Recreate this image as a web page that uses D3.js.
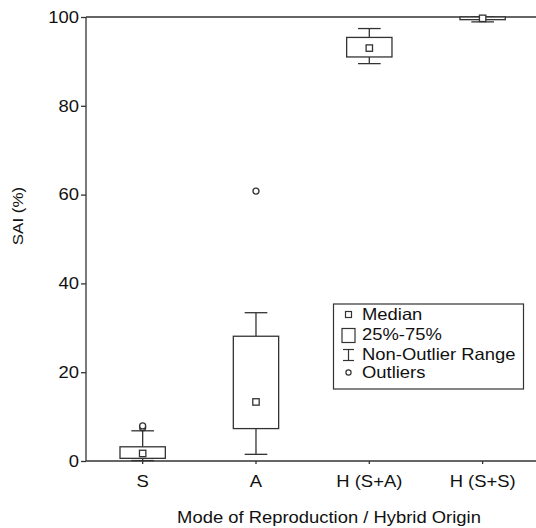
<!DOCTYPE html>
<html><head><meta charset="utf-8">
<script src="https://cdn.jsdelivr.net/npm/d3@7"></script>
<style>body{margin:0;background:#fff}svg{display:block;font-family:"Liberation Sans",Arial,sans-serif}</style>
</head><body><svg id="c" width="536" height="528"></svg>
<script>
const categories = ["S", "A", "H (S+A)", "H (S+S)"];
const medians = [1.7, 13.3, 93.0, 99.7];
const q1 = [0.6, 7.3, 91.0, 99.4];
const q3 = [3.2, 28.1, 95.4, 100.0];
const whiskerLow = [0.1, 1.5, 89.5, 98.9];
const whiskerHigh = [6.8, 33.4, 97.4, 100.0];
const outlierCategory = ["S", "S", "A"];
const outlierValue = [7.5, 7.9, 60.8];
const yTicks = [0, 20, 40, 60, 80, 100];
const legendLabels = ["Median", "25%-75%", "Non-Outlier Range", "Outliers"];

const svg = d3.select("#c");
const ink = "#333";
const SX = 1.13;
function stretch(sel) {
  sel.each(function () {
    const t = d3.select(this);
    const tx = +t.attr("x") || 0, ty = +t.attr("y") || 0;
    t.attr("x", 0).attr("y", 0).attr("transform", `translate(${tx},${ty}) scale(${SX},1)`);
  });
}
const x = d3.scaleBand().domain(categories).range([86, 539.3]);
const y = d3.scaleLinear().domain([0, 100]).range([461, 17]);
const bw = x.bandwidth() * 0.4, cw = x.bandwidth() * 0.2;
const cx = c => x(c) + x.bandwidth() / 2;

// frame top
svg.append("line").attr("x1", 86).attr("x2", 536).attr("y1", y(100)).attr("y2", y(100))
  .attr("stroke", ink).attr("stroke-width", 1.3);

const yAxis = svg.append("g").attr("transform", "translate(86,0)")
  .call(d3.axisLeft(y).tickValues(yTicks).tickSize(5).tickPadding(2));
const xAxis = svg.append("g").attr("transform", `translate(0,${y(0)})`)
  .call(d3.axisBottom(x).tickSize(3).tickPadding(11));
[yAxis, xAxis].forEach(a => {
  a.selectAll("path,line").attr("stroke", ink).attr("stroke-width", 1.3);
  a.selectAll("text").attr("font-size", 16.3).attr("fill", "#111").attr("font-family", "Liberation Sans, Arial, sans-serif");
  stretch(a.selectAll("text"));
});
xAxis.select(".domain").attr("d", `M86,0H536`);
yAxis.select(".domain").attr("d", `M0,${y(0)}V${y(100)}`);

const data = categories.map((c, i) => ({c, med: medians[i], lo: q1[i], hi: q3[i], wl: whiskerLow[i], wh: whiskerHigh[i]}));
const g = svg.append("g").attr("stroke", ink).attr("stroke-width", 1.3).attr("fill", "none");
data.forEach(d => {
  const m = cx(d.c);
  g.append("line").attr("x1", m).attr("x2", m).attr("y1", y(d.wl)).attr("y2", y(d.lo));
  g.append("line").attr("x1", m).attr("x2", m).attr("y1", y(d.hi)).attr("y2", y(d.wh));
  g.append("line").attr("x1", m - cw / 2).attr("x2", m + cw / 2).attr("y1", y(d.wl)).attr("y2", y(d.wl));
  g.append("line").attr("x1", m - cw / 2).attr("x2", m + cw / 2).attr("y1", y(d.wh)).attr("y2", y(d.wh));
  g.append("rect").attr("x", m - bw / 2).attr("width", bw).attr("y", y(d.hi)).attr("height", y(d.lo) - y(d.hi)).attr("fill", "#fff");
  g.append("rect").attr("x", m - 3.2).attr("y", y(d.med) - 3.2).attr("width", 6.4).attr("height", 6.4).attr("fill", "#fff");
});
outlierValue.forEach((v, i) => {
  g.append("circle").attr("cx", cx(outlierCategory[i])).attr("cy", y(v)).attr("r", 3).attr("fill", "#fff");
});

// legend
const L = svg.append("g");
L.append("rect").attr("x", 333.5).attr("y", 304).attr("width", 190).attr("height", 85)
  .attr("fill", "#fff").attr("stroke", ink).attr("stroke-width", 1.2);
const rowY = [320, 340, 359.5, 378];
legendLabels.forEach((t, i) => {
  L.append("text").attr("x", 362).attr("y", rowY[i]).attr("font-size", 16.3).attr("fill", "#111").text(t);
});
stretch(L.selectAll("text"));
const sx = 348.5;
const ls = L.append("g").attr("stroke", ink).attr("stroke-width", 1.2).attr("fill", "#fff");
ls.append("rect").attr("x", sx - 3).attr("y", rowY[0] - 8.5).attr("width", 6).attr("height", 6);
ls.append("rect").attr("x", sx - 6.5).attr("y", rowY[1] - 11.5).attr("width", 13).attr("height", 14);
ls.append("line").attr("x1", sx).attr("x2", sx).attr("y1", rowY[2] - 10).attr("y2", rowY[2] + 1);
ls.append("line").attr("x1", sx - 5.5).attr("x2", sx + 5.5).attr("y1", rowY[2] - 10).attr("y2", rowY[2] - 10);
ls.append("line").attr("x1", sx - 5.5).attr("x2", sx + 5.5).attr("y1", rowY[2] + 1).attr("y2", rowY[2] + 1);
ls.append("circle").attr("cx", sx).attr("cy", rowY[3] - 5.5).attr("r", 2.6);

const xt = svg.append("text").attr("x", 329).attr("y", 523).attr("text-anchor", "middle").attr("font-size", 16.3).attr("fill", "#111")
  .text("Mode of Reproduction / Hybrid Origin");
stretch(xt);
svg.append("text").attr("transform", `translate(23,216) rotate(-90) scale(${SX},1)`).attr("text-anchor", "middle").attr("font-size", 15).attr("fill", "#111")
  .text("SAI (%)");
</script></body></html>
